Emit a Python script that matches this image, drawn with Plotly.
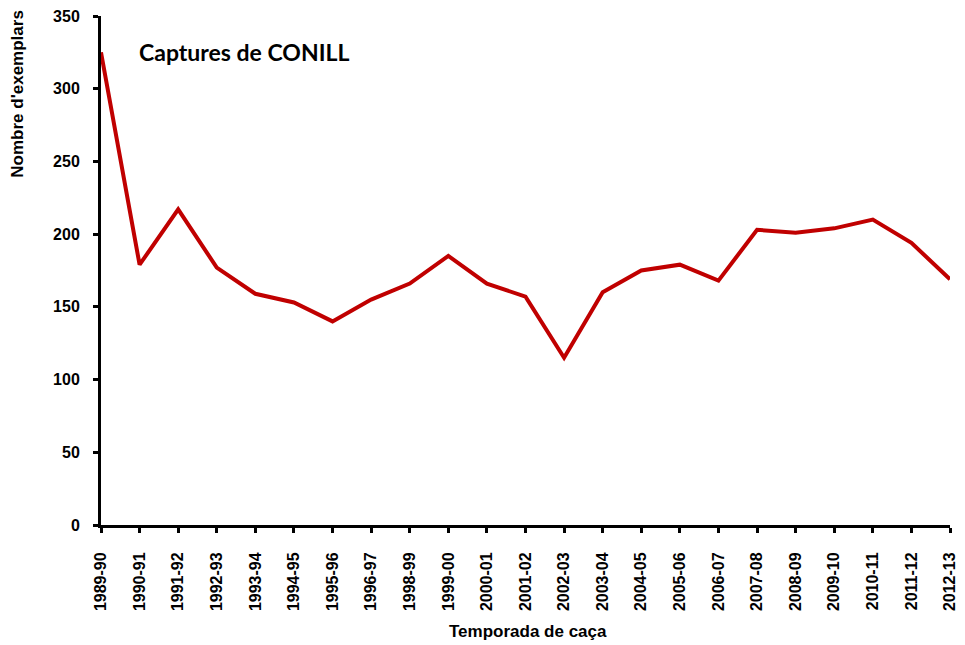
import plotly.graph_objects as go

# --- Data ---
seasons = [
    "1989-90", "1990-91", "1991-92", "1992-93", "1993-94", "1994-95",
    "1995-96", "1996-97", "1998-99", "1999-00", "2000-01", "2001-02",
    "2002-03", "2003-04", "2004-05", "2005-06", "2006-07", "2007-08",
    "2008-09", "2009-10", "2010-11", "2011-12", "2012-13",
]
captures = [
    325, 179, 217, 177, 159, 153,
    140, 155, 166, 185, 166, 157,
    115, 160, 175, 179, 168, 203,
    201, 204, 210, 194, 169,
]
y_ticks = [0, 50, 100, 150, 200, 250, 300, 350]

tick_font = dict(family="Liberation Sans, Arial", size=16, color="black", weight="bold")
label_font = dict(family="Liberation Sans, Arial", size=17, color="black", weight="bold")

fig = go.Figure()

fig.add_trace(
    go.Scatter(
        x=list(range(len(seasons))),
        y=captures,
        mode="lines",
        line=dict(color="#C00000", width=4),
        hoverinfo="skip",
        showlegend=False,
    )
)

# --- Layout styling ---
# page body has an 8px margin, so the plot box is shifted up/left by 8px
fig.update_layout(
    width=965,
    height=645,
    paper_bgcolor="white",
    plot_bgcolor="white",
    margin=dict(l=93, r=23, t=8, b=128, autoexpand=False),
    xaxis=dict(
        range=[0, len(seasons) - 1],
        tickmode="array",
        tickvals=list(range(len(seasons))),
        ticktext=seasons,
        tickangle=-90,
        ticks="outside",
        ticklen=5,
        tickwidth=3,
        tickcolor="black",
        ticklabelstandoff=13,
        ticklabeloverflow="allow",
        showline=True,
        linecolor="black",
        linewidth=3,
        showgrid=False,
        zeroline=False,
        automargin=False,
        tickfont=tick_font,
    ),
    yaxis=dict(
        range=[0, 350],
        tickvals=y_ticks,
        ticks="outside",
        ticklen=5,
        tickwidth=3,
        tickcolor="black",
        ticklabelstandoff=10,
        ticklabeloverflow="allow",
        showline=True,
        linecolor="black",
        linewidth=3,
        showgrid=False,
        zeroline=False,
        automargin=False,
        tickfont=tick_font,
    ),
    annotations=[
        dict(
            text="Nombre d'exemplars",
            xref="paper", yref="paper",
            x=-0.098, y=1.016,
            xanchor="center", yanchor="top",
            textangle=-90,
            showarrow=False,
            font=label_font,
        ),
        dict(
            text="Temporada de caça",
            xref="paper", yref="paper",
            x=0.503, y=-0.21,
            xanchor="center", yanchor="middle",
            showarrow=False,
            font=label_font,
        ),
        dict(
            text="Captures de CONILL",
            xref="paper", yref="paper",
            x=0.042, y=0.93,
            xanchor="left", yanchor="middle",
            showarrow=False,
            font=dict(family="Lato, Open Sans", size=23, color="black", weight="bold"),
        ),
    ],
)

fig.write_html("out.html")
